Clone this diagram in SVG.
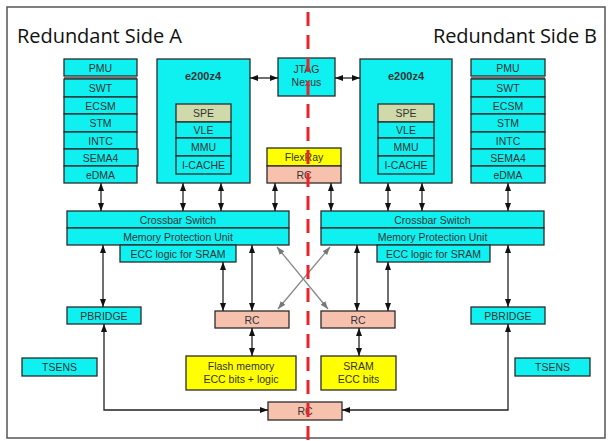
<svg xmlns="http://www.w3.org/2000/svg" width="608" height="441" viewBox="0 0 608 441">
<defs>
<marker id="ah" viewBox="0 0 8 6" refX="8" refY="3" markerWidth="8" markerHeight="6" markerUnits="userSpaceOnUse" orient="auto-start-reverse"><path d="M0,0 L8,3 L0,6 z" fill="#111"/></marker>
<marker id="ahg" viewBox="0 0 8 6" refX="8" refY="3" markerWidth="8" markerHeight="6" markerUnits="userSpaceOnUse" orient="auto-start-reverse"><path d="M0,0 L8,3 L0,6 z" fill="#777"/></marker>
<style>
.c{fill:#0ff0f0;stroke:#2b2b2b;stroke-width:1.3}
.r{fill:#f6c2ae;stroke:#2b2b2b;stroke-width:1.3}
.y{fill:#ffff00;stroke:#2b2b2b;stroke-width:1.3}
.g{fill:#cfd9a9;stroke:#2b2b2b;stroke-width:1.3}
.t{font-family:"Liberation Sans",Arial,sans-serif;font-size:10.5px;fill:#333;text-anchor:middle}
.b{font-weight:bold;font-size:11px}
.h{font-family:"Open Sans","Noto Sans",sans-serif;font-size:20px;fill:#111}
.a{fill:none;stroke:#222;stroke-width:1.3;marker-start:url(#ah);marker-end:url(#ah)}
.ag{fill:none;stroke:#888;stroke-width:1.3;marker-start:url(#ahg);marker-end:url(#ahg)}
</style>
</defs>
<rect x="0" y="0" width="608" height="441" fill="#fff"/>
<rect x="7" y="7" width="598" height="431" fill="#fff" stroke="#555" stroke-width="1.5"/>
<text class="h" x="17" y="43" textLength="165">Redundant Side A</text>
<text class="h" x="433" y="43" textLength="164">Redundant Side B</text>

<g id="periph-a">
<rect class="c" x="64" y="59" width="73" height="17"/><text class="t" x="100.5" y="71.5">PMU</text>
<rect x="64" y="76" width="73" height="3" fill="#777"/>
<rect class="c" x="64" y="79" width="73" height="18"/><text class="t" x="100.5" y="92">SWT</text>
<rect class="c" x="64" y="97" width="73" height="17"/><text class="t" x="100.5" y="109.5">ECSM</text>
<rect class="c" x="64" y="114" width="73" height="18"/><text class="t" x="100.5" y="127">STM</text>
<rect class="c" x="64" y="132" width="73" height="17"/><text class="t" x="100.5" y="144.5">INTC</text>
<rect class="c" x="64" y="149" width="74" height="17"/><text class="t" x="100.5" y="161.5">SEMA4</text>
<rect class="c" x="64" y="166" width="73" height="17"/><text class="t" x="100.5" y="178.5">eDMA</text>
</g>
<g id="core-a">
<rect class="c" x="157" y="59" width="93" height="124"/><text class="t b" x="203" y="80">e200z4</text>
<rect class="g" x="176" y="104" width="55" height="18"/><text class="t" x="203.5" y="117">SPE</text>
<rect class="c" x="176" y="122" width="55" height="16"/><text class="t" x="203.5" y="134">VLE</text>
<rect class="c" x="176" y="138" width="55" height="18"/><text class="t" x="203.5" y="151">MMU</text>
<rect class="c" x="176" y="156" width="55" height="18"/><text class="t" x="203.5" y="169">I-CACHE</text>
</g>
<g id="jtag">
<rect class="c" x="278" y="58" width="57" height="38"/><text class="t" x="306.5" y="73">JTAG</text><text class="t" x="306.5" y="86">Nexus</text>
</g>
<g id="flexray">
<rect class="y" x="267" y="148" width="74" height="18"/><text class="t" x="304" y="161">FlexRay</text>
<rect class="r" x="267" y="166" width="74" height="17"/><text class="t" x="304" y="178.5">RC</text>
</g>
<g id="core-b">
<rect class="c" x="360" y="59" width="92" height="124"/><text class="t b" x="406" y="80">e200z4</text>
<rect class="g" x="378" y="104" width="56" height="18"/><text class="t" x="406" y="117">SPE</text>
<rect class="c" x="378" y="122" width="56" height="16"/><text class="t" x="406" y="134">VLE</text>
<rect class="c" x="378" y="138" width="56" height="18"/><text class="t" x="406" y="151">MMU</text>
<rect class="c" x="378" y="156" width="56" height="18"/><text class="t" x="406" y="169">I-CACHE</text>
</g>
<g id="periph-b">
<rect class="c" x="471" y="59" width="74" height="17"/><text class="t" x="508" y="71.5">PMU</text>
<rect x="471" y="76" width="74" height="3" fill="#777"/>
<rect class="c" x="471" y="79" width="74" height="18"/><text class="t" x="508" y="92">SWT</text>
<rect class="c" x="471" y="97" width="74" height="17"/><text class="t" x="508" y="109.5">ECSM</text>
<rect class="c" x="471" y="114" width="74" height="18"/><text class="t" x="508" y="127">STM</text>
<rect class="c" x="471" y="132" width="74" height="17"/><text class="t" x="508" y="144.5">INTC</text>
<rect class="c" x="471" y="149" width="74" height="17"/><text class="t" x="508" y="161.5">SEMA4</text>
<rect class="c" x="471" y="166" width="74" height="17"/><text class="t" x="508" y="178.5">eDMA</text>
</g>
<g id="xbar-a">
<rect class="c" x="67" y="211" width="222" height="17"/><text class="t" x="178" y="223.5">Crossbar Switch</text>
<rect class="c" x="67" y="228" width="222" height="17"/><text class="t" x="178" y="240.5">Memory Protection Unit</text>
<rect class="c" x="120" y="245" width="116" height="17"/><text class="t" x="178" y="257.5">ECC logic for SRAM</text>
</g>
<g id="xbar-b">
<rect class="c" x="321" y="211" width="223" height="17"/><text class="t" x="432.5" y="223.5">Crossbar Switch</text>
<rect class="c" x="321" y="228" width="223" height="17"/><text class="t" x="432.5" y="240.5">Memory Protection Unit</text>
<rect class="c" x="377" y="245" width="113" height="17"/><text class="t" x="433.5" y="257.5">ECC logic for SRAM</text>
</g>
<g id="pbridge-a"><rect class="c" x="67" y="307" width="74" height="17"/><text class="t" x="104" y="319.5">PBRIDGE</text></g>
<g id="pbridge-b"><rect class="c" x="471" y="307" width="74" height="17"/><text class="t" x="508" y="319.5">PBRIDGE</text></g>
<g id="rc-a"><rect class="r" x="215" y="311" width="74" height="17"/><text class="t" x="252" y="323.5">RC</text></g>
<g id="rc-b"><rect class="r" x="321" y="311" width="74" height="17"/><text class="t" x="358" y="323.5">RC</text></g>
<g id="tsens-a"><rect class="c" x="22" y="358" width="75" height="18"/><text class="t" x="59.5" y="371">TSENS</text></g>
<g id="tsens-b"><rect class="c" x="515" y="358" width="75" height="18"/><text class="t" x="552.5" y="371">TSENS</text></g>
<g id="flash"><rect class="y" x="186" y="356" width="110" height="34"/><text class="t" x="241" y="370">Flash memory</text><text class="t" x="241" y="383">ECC bits + logic</text></g>
<g id="sram"><rect class="y" x="321" y="356" width="75" height="34"/><text class="t" x="358.5" y="370">SRAM</text><text class="t" x="358.5" y="383">ECC bits</text></g>
<g id="rc-bottom"><rect class="r" x="268" y="402" width="74" height="18"/><text class="t" x="305" y="415">RC</text></g>

<g id="connectors">
<path class="a" d="M250,78 H278"/>
<path class="a" d="M335,78 H360"/>
<path class="a" d="M101,183 V211"/>
<path class="a" d="M183,183 V211"/>
<path class="a" d="M221,183 V211"/>
<path class="a" d="M275,183 V211"/>
<path class="a" d="M331,183 V211"/>
<path class="a" d="M388,183 V211"/>
<path class="a" d="M422,183 V211"/>
<path class="a" d="M508,183 V211"/>
<path class="a" d="M103,245 V307"/>
<path class="a" d="M223,262 V311"/>
<path class="a" d="M252,245 V311"/>
<path class="a" d="M357,245 V311"/>
<path class="a" d="M388,262 V311"/>
<path class="a" d="M508,245 V307"/>
<path class="ag" d="M277,247 L328,309"/>
<path class="ag" d="M330,247 L278,309"/>
<path class="a" d="M252,328 V356"/>
<path class="a" d="M359,328 V356"/>
<path class="a" d="M104,324 V410 H268"/>
<path class="a" d="M508,324 V410 H342"/>
</g>
<line x1="308" y1="12" x2="308" y2="441" stroke="#e8232b" stroke-width="3" stroke-dasharray="14 9"/>
</svg>
